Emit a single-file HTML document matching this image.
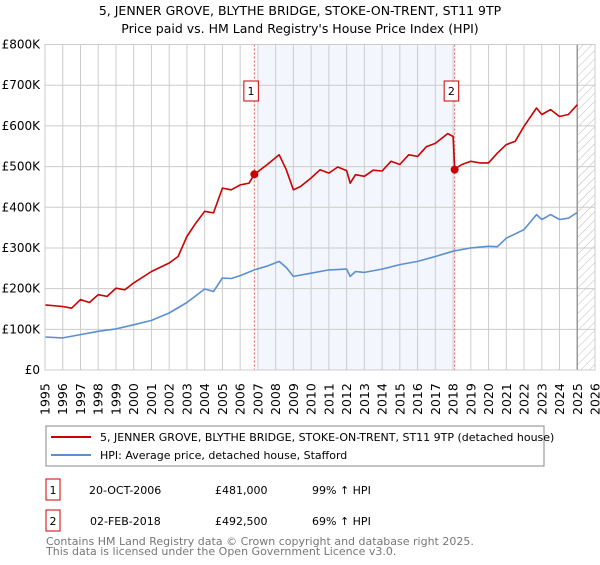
<!DOCTYPE html>
<html><head><meta charset="utf-8"><style>
body{margin:0;background:#fff;font-family:"Liberation Sans","DejaVu Sans",sans-serif;}
svg text{font-family:"DejaVu Sans","Liberation Sans",sans-serif;}
</style></head><body>
<svg id="chart" width="600" height="560" viewBox="0 0 600 560" xmlns="http://www.w3.org/2000/svg">
<defs>
<pattern id="hatch" width="6" height="6" patternUnits="userSpaceOnUse" patternTransform="rotate(45)">
<line x1="0" y1="0" x2="0" y2="6" stroke="#bbb" stroke-width="1"/>
</pattern>
</defs>
<text x="300" y="15" text-anchor="middle" font-size="12.5" fill="#000">5, JENNER GROVE, BLYTHE BRIDGE, STOKE-ON-TRENT, ST11 9TP</text>
<text x="300" y="33" text-anchor="middle" font-size="12.5" fill="#000">Price paid vs. HM Land Registry's House Price Index (HPI)</text>
<g id="plot"></g>
<rect x="46" y="426" width="498" height="40" fill="#fff" stroke="#888"/>
<line x1="51" y1="437" x2="91" y2="437" stroke="#cc0000" stroke-width="2"/>
<text x="100" y="441" font-size="11">5, JENNER GROVE, BLYTHE BRIDGE, STOKE-ON-TRENT, ST11 9TP (detached house)</text>
<line x1="51" y1="455" x2="91" y2="455" stroke="#5b8fd4" stroke-width="2"/>
<text x="100" y="459" font-size="11">HPI: Average price, detached house, Stafford</text>
<g>
<rect x="46" y="479" width="14" height="21" fill="#fff" stroke="#cc0000"/>
<text x="53" y="494" font-size="11" text-anchor="middle">1</text>
<text x="89" y="494" font-size="11">20-OCT-2006</text>
<text x="215" y="494" font-size="11">£481,000</text>
<text x="312" y="494" font-size="11">99% ↑ HPI</text>
</g>
<g>
<rect x="46" y="510" width="14" height="21" fill="#fff" stroke="#cc0000"/>
<text x="53" y="525" font-size="11" text-anchor="middle">2</text>
<text x="90" y="525" font-size="11">02-FEB-2018</text>
<text x="215" y="525" font-size="11">£492,500</text>
<text x="312" y="525" font-size="11">69% ↑ HPI</text>
</g>
<text x="46" y="545" font-size="11" fill="#777">Contains HM Land Registry data © Crown copyright and database right 2025.</text>
<text x="46" y="555" font-size="11" fill="#777">This data is licensed under the Open Government Licence v3.0.</text>
</svg>
<script>
const yTicks=[0,100000,200000,300000,400000,500000,600000,700000,800000];
const yTickLabels=["£0","£100K","£200K","£300K","£400K","£500K","£600K","£700K","£800K"];
const xYears=[1995,1996,1997,1998,1999,2000,2001,2002,2003,2004,2005,2006,2007,2008,2009,2010,2011,2012,2013,2014,2015,2016,2017,2018,2019,2020,2021,2022,2023,2024,2025,2026];
const hpiDates=[1995,1996,1997,1998,1999,2000,2001,2002,2003,2004,2004.5,2005,2005.5,2006,2006.8,2007.5,2008.2,2008.6,2009,2010,2011,2012,2012.2,2012.5,2013,2014,2015,2016,2017,2018,2019,2020,2020.5,2021,2022,2022.7,2023,2023.5,2024,2024.5,2025];
const hpiValues=[81000,79000,87000,95000,101000,111000,122000,140000,166000,199000,193000,226000,225000,232000,246000,255000,267000,252000,230000,238000,246000,248000,230000,242000,240000,248000,259000,267000,279000,292000,300000,304000,303000,324000,345000,382000,370000,382000,370000,373000,387000];
const priceDates=[1995,1996,1996.5,1997,1997.5,1998,1998.5,1999,1999.5,2000,2001,2002,2002.5,2003,2003.5,2004,2004.5,2005,2005.5,2006,2006.5,2006.8,2007.5,2008.2,2008.6,2009,2009.4,2010,2010.5,2011,2011.5,2012,2012.2,2012.5,2013,2013.5,2014,2014.5,2015,2015.5,2016,2016.5,2017,2017.7,2018.0,2018.09,2018.5,2019,2019.5,2020,2020.5,2021,2021.5,2022,2022.7,2023,2023.5,2024,2024.5,2025];
const priceValues=[160000,156000,152000,173000,166000,185000,181000,201000,197000,214000,242000,263000,279000,328000,361000,390000,386000,447000,443000,455000,459000,481000,504000,529000,492000,443000,451000,472000,492000,484000,499000,490000,459000,480000,476000,491000,489000,513000,505000,529000,525000,549000,557000,581000,574000,494000,505000,513000,509000,509000,533000,554000,562000,599000,644000,628000,640000,623000,628000,652000];
const saleDates=[2006.8,2018.09];
const salePrices=[481000,492500];
const saleLabels=["1","2"];

const L=45,R=595,T=44.5,B=370;
const x=d=>L+(d-1995)/(2026-1995)*(R-L);
const y=v=>B-v/800000*(B-T);
const NS="http://www.w3.org/2000/svg";
const g=document.getElementById('plot');
function mk(tag,attrs,parent){const e=document.createElementNS(NS,tag);for(const k in attrs)e.setAttribute(k,attrs[k]);(parent||g).appendChild(e);return e;}

const shade=mk('rect',{x:x(2007),y:T,width:x(saleDates[1])-x(2007),height:B-T,fill:'#f3f6fd'});


const hatch=mk('rect',{x:x(2025),y:T,width:R-x(2025),height:B-T,fill:'url(#hatch)'});



yTicks.forEach((v,i)=>{
  const ln=mk('line',{x1:L,x2:R,y1:y(v),y2:y(v),stroke:'#ccc','stroke-width':1});
  
  
  const t=mk('text',{x:L-5,y:y(v)+4,'text-anchor':'end','font-size':'12'});
  t.textContent=yTickLabels[i];
  
  
});
xYears.forEach(yr=>{
  const ln=mk('line',{x1:x(yr),x2:x(yr),y1:T,y2:B,stroke:'#ccc','stroke-width':1});
  
  
  const t=mk('text',{transform:`translate(${x(yr)+4.5},${B+45}) rotate(-90)`,'font-size':'12.5'});
  t.textContent=yr;
  
  
});
const nowLine=mk('line',{x1:x(2025),x2:x(2025),y1:T,y2:B,stroke:'#999','stroke-width':1.5});



saleDates.forEach((d,i)=>{
  const ln=mk('line',{x1:x(d),x2:x(d),y1:T,y2:B,stroke:'#e06060','stroke-width':1,'stroke-dasharray':'2,2'});
  
  
});

function path(ds,vs,color,name){
  const p=mk('path',{d:ds.map((d,i)=>(i?'L':'M')+x(d).toFixed(1)+','+y(vs[i]).toFixed(1)).join(''),fill:'none',stroke:color,'stroke-width':1.6,'stroke-linejoin':'round'});
  
  
}
path(hpiDates,hpiValues,'#5b8fd4','hpi-line');
path(priceDates,priceValues,'#cc0000','property-price-line');

saleDates.forEach((d,i)=>{
  const c=mk('circle',{cx:x(d),cy:y(salePrices[i]),r:4,fill:'#cc0000'});
  
  
  const b=mk('rect',{x:x(d)-10.5,y:81,width:14.5,height:20,fill:'#fff',stroke:'#cc0000'});
  
  
  const t=mk('text',{x:x(d)-3.3,y:95,'text-anchor':'middle','font-size':'11'});
  t.textContent=saleLabels[i];
  
  
});
const frame=mk('rect',{x:L,y:T,width:R-L,height:B-T,fill:'none',stroke:'#ccc'});


</script>
</body></html>
